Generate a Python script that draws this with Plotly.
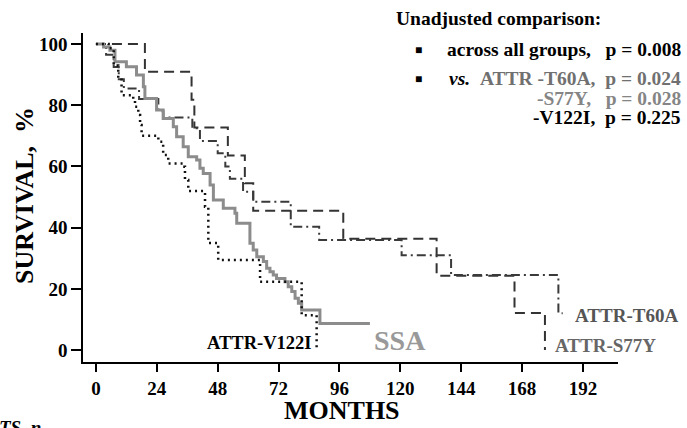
import plotly.graph_objects as go

# ---- data (months, survival %) ----
ssa_t = [0, 3, 5.5, 7.5, 12, 16, 18.7, 19.3, 23.9, 26.5, 30.5, 31.8, 34.4, 36.4, 39.7, 41, 42.3, 45, 46.3,
         50.2, 54.8, 55.5, 60.7, 62, 63.4, 66, 67.3, 68.6, 69.9, 71.2, 74.5, 75.8, 77.2, 78.5, 79.8, 81.1, 88.3, 108]
ssa_s = [100, 99, 98, 94.2, 92.6, 89.9, 86, 82.2, 78.4, 75.7, 73, 69.7, 66.4, 63.2, 62.1, 59.4, 57.7, 53.9, 49,
         46.3, 44.7, 41.4, 34.9, 32.7, 30.5, 28.9, 26.7, 25.6, 24.5, 23.4, 22.3, 20.7, 19.1, 16.9, 15.3, 13.1, 8.7, 8.7]

v122i_t = [0, 5, 7, 8.8, 10.1, 14.7, 15.4, 16.7, 17.4, 18, 24.6, 26.5, 28.5, 34.4, 35.1, 36.4, 43, 44.3, 48.2, 64.7, 81.1, 87]
v122i_s = [100, 98.6, 93, 88.8, 83.3, 81.7, 79.5, 76.8, 73.5, 70, 68.1, 63.7, 61, 59.9, 55.6, 52, 46.8, 35, 29.4, 22.3, 11.4, 0]

s77y_t = [0, 19.3, 37.7, 38.8, 52, 58.7, 62, 97.5, 134.3, 165, 177]
s77y_s = [100, 90.9, 81.8, 72.7, 63.6, 54.5, 45.5, 36.4, 24.3, 12.1, 0]

t60a_t = [0, 4, 7, 9, 11, 17, 24.6, 26.6, 38, 41, 48, 51, 52.8, 58, 62, 76.8, 88, 120.5, 140, 182.3, 184]
t60a_s = [100, 96.5, 92.5, 88.5, 85.5, 82, 78, 76, 72.5, 68.3, 64.3, 60, 56, 51.7, 48.5, 40.3, 36, 31, 24.5, 12, 12]

x_ticks = [0, 24, 48, 72, 96, 120, 144, 168, 192]
y_ticks = [0, 20, 40, 60, 80, 100]

FONT = "Liberation Serif, Times New Roman, serif"

fig = go.Figure()
fig.add_trace(go.Scatter(x=s77y_t, y=s77y_s, mode="lines", line_shape="hv",
                         line=dict(color="#333333", width=2, dash="10px,6px"), name="ATTR-S77Y"))
fig.add_trace(go.Scatter(x=t60a_t, y=t60a_s, mode="lines", line_shape="hv",
                         line=dict(color="#3a3a3a", width=2, dash="9px,4px,2px,4px"), name="ATTR-T60A"))
fig.add_trace(go.Scatter(x=ssa_t, y=ssa_s, mode="lines", line_shape="hv",
                         line=dict(color="#8c8c8c", width=3), name="SSA"))
fig.add_trace(go.Scatter(x=v122i_t, y=v122i_s, mode="lines", line_shape="hv",
                         line=dict(color="#111111", width=2.5, dash="2px,4px"), name="ATTR-V122I"))

W, H = 687, 428
L, R, T, B = 83, 69, 33, 66
PW, PH = W - L - R, H - T - B


def px(xp):
    return (xp - L) / PW


def py(yp):
    return (H - B - yp) / PH


ann = []
def add(text, x, y, size, xanchor="center", color="black", angle=0):
    ann.append(dict(text=text, x=px(x), y=py(y), xref="paper", yref="paper", xanchor=xanchor,
                    yanchor="middle", showarrow=False, textangle=angle,
                    font=dict(family=FONT, size=size, color=color)))

# legend-like text block
add("<b>Unadjusted comparison:</b>", 498, 18, 19.5)
add("<b>■</b>", 418, 50, 12)
add("<b>across all groups,&nbsp;&nbsp;&nbsp;p = 0.008</b>", 683, 50, 19.5, xanchor="right")
add("<b>■</b>", 418, 79, 12)
add("<b><i>vs.</i>&nbsp;&nbsp;<span style='color:#707070'>ATTR -T60A,&nbsp;&nbsp;p = 0.024</span></b>",
    683, 79, 19.5, xanchor="right")
add("<b>-S77Y,&nbsp;&nbsp;&nbsp;p = 0.028</b>", 683, 98, 19.5, xanchor="right", color="#858585")
add("<b>-V122I,&nbsp;&nbsp;p = 0.225</b>", 683, 117, 19.5, xanchor="right")

# curve labels
add("<b>ATTR-V122I</b>", 259.5, 343, 18.5)
add("<b>SSA</b>", 399.5, 340, 28, color="#999999")
add("<b>ATTR-T60A</b>", 626, 315, 19, color="#555555")
add("<b>ATTR-S77Y</b>", 605, 345, 19, color="#666666")

# axis titles
add("<b>MONTHS</b>", 342, 410, 26)
add("<b>SURVIVAL,&nbsp;&nbsp;%</b>", 24, 196, 26, angle=-90)
add("<b><i>TS, n</i></b>", -3, 427, 19, xanchor="left")

fig.update_layout(
    width=W, height=H, margin=dict(l=L, r=R, t=T, b=B, autoexpand=False),
    paper_bgcolor="white", plot_bgcolor="white", showlegend=False,
    font=dict(family=FONT, size=19, color="black"),
    annotations=ann,
)
fig.update_xaxes(range=[-5.1, 205.8], tickvals=x_ticks, ticktext=[f"<b>{v}</b>" for v in x_ticks],
                 showline=True, linecolor="black", linewidth=1.5, ticks="outside", ticklen=8,
                 tickwidth=1.5, tickcolor="black", showgrid=False, zeroline=False,
                 tickfont=dict(family=FONT, size=19, color="black"))
fig.update_yaxes(range=[-3.9, 103.6], tickvals=y_ticks, ticktext=[f"<b>{v}</b>" for v in y_ticks],
                 showline=True, linecolor="black", linewidth=1.5, ticks="outside", ticklen=10,
                 tickwidth=1.5, tickcolor="black", showgrid=False, zeroline=False,
                 tickfont=dict(family=FONT, size=19, color="black"))

fig.write_html("out.html", config={"displayModeBar": False},
               post_script="document.body.style.margin='0';document.body.style.overflow='hidden';")
